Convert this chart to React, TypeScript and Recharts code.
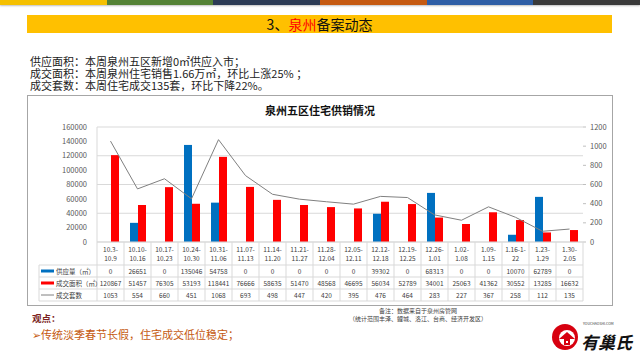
import React from "react";
import { ComposedChart, Bar, Line, XAxis, YAxis, CartesianGrid } from "recharts";

const catTop = ["10.3-", "10.10-", "10.17-", "10.24-", "10.31-", "11.07-", "11.14-", "11.21-", "11.28-", "12.05-", "12.12-", "12.19-", "12.26-", "1.02-", "1.09-", "1.16-1-", "1.23-", "1.30-"];
const catBottom = ["10.9", "10.16", "10.23", "10.30", "11.06", "11.13", "11.20", "11.27", "12.04", "12.11", "12.18", "12.25", "1.01", "1.08", "1.15", "22", "1.29", "2.05"];
const supplyArea = [0, 26651, 0, 135046, 54758, 0, 0, 0, 0, 0, 39302, 0, 68313, 0, 0, 10070, 62789, 0];
const dealArea = [120867, 51457, 76305, 53193, 118441, 76666, 58635, 51470, 48568, 46695, 56034, 52789, 34001, 25063, 41362, 30552, 13285, 16632];
const dealCount = [1053, 554, 660, 451, 1068, 693, 498, 447, 420, 395, 476, 464, 283, 227, 367, 258, 112, 135];
const leftTicks = [0, 20000, 40000, 60000, 80000, 100000, 120000, 140000, 160000];
const rightTicks = [0, 200, 400, 600, 800, 1000, 1200];
const stripeColors = ["#f5c000", "#548235", "#2c3b55", "#c55a11", "#2e5ea6", "#3a3a3a"];

const data = catTop.map((c, i) => ({
  name: c + catBottom[i],
  supply: supplyArea[i],
  deal: dealArea[i],
  count: dealCount[i],
}));

const FONT = "'Noto Sans CJK SC', 'Noto Sans', sans-serif";
const GRID = "#d9d9d9";
const TXT = "#404040";

const TableTick = (props: any) => {
  const { x, y, index } = props;
  const bw = (props.width || 486) / catTop.length;
  const l = x - bw / 2;
  const r = x + bw / 2;
  const rows = [y + 23, y + 35, y + 47, y + 59];
  const vals = [supplyArea[index], dealArea[index], dealCount[index]];
  return (
    <g fontFamily={FONT} fontSize={6.5} fill={TXT}>
      <line x1={l} y1={y} x2={l} y2={rows[3]} stroke={GRID} />
      {index === catTop.length - 1 && <line x1={r} y1={y} x2={r} y2={rows[3]} stroke={GRID} />}
      {rows.map((ry, k) => (
        <line key={k} x1={l} y1={ry} x2={r} y2={ry} stroke={GRID} />
      ))}
      <text x={x} y={y + 9.5} textAnchor="middle">{catTop[index]}</text>
      <text x={x} y={y + 18.5} textAnchor="middle">{catBottom[index]}</text>
      {vals.map((v, k) => (
        <text key={k} x={x} y={rows[k] + 8.5} textAnchor="middle">{v}</text>
      ))}
    </g>
  );
};

export default function App() {
  return (
    <div style={{ position: "absolute", left: 0, top: 0, width: 640, height: 355, background: "#fff", fontFamily: FONT, overflow: "hidden" }}>
      <div style={{ position: "absolute", left: 0, top: 0, width: 640, height: 5, display: "flex", boxShadow: "0 1px 2px rgba(0,0,0,0.25)" }}>
        {stripeColors.map((c) => (
          <div key={c} style={{ flex: 1, background: c }} />
        ))}
      </div>
      <div style={{ position: "absolute", left: 27, top: 15, width: 585, height: 18, background: "#ffc000", textAlign: "center", fontSize: 14, lineHeight: "18px", color: "#111" }}>
        3、<span style={{ color: "#ff0000" }}>泉州</span>备案动态
      </div>
      <div style={{ position: "absolute", left: 30, top: 55, fontSize: 11, lineHeight: "12px", color: "#222" }}>
        <div>供应面积：本周泉州五区新增0㎡供应入市；</div>
        <div>成交面积：本周泉州住宅销售1.66万㎡，环比上涨25%  ；</div>
        <div>成交套数：本周住宅成交135套，环比下降22%。</div>
      </div>
      <div style={{ position: "absolute", left: 27, top: 95, width: 584, height: 209, border: "1px solid #a6a6a6" }} />
      <div style={{ position: "absolute", left: 0, top: 102, width: 640, textAlign: "center", fontSize: 11, fontWeight: 700, color: "#111" }}>
        泉州五区住宅供销情况
      </div>
      <div style={{ position: "absolute", left: 0, top: 0 }}>
        <ComposedChart width={640} height={310} data={data} margin={{ top: 127, right: 27, left: 37, bottom: 8 }} barGap={0}>
          <CartesianGrid yAxisId="left" vertical={false} stroke={GRID} />
          <XAxis dataKey="name" height={60} interval={0} tickLine={false} tickSize={0} tickMargin={0} axisLine={{ stroke: GRID }} tick={<TableTick />} />
          <YAxis yAxisId="left" width={60} domain={[0, 160000]} ticks={leftTicks} tickLine={false} tickSize={0} tickMargin={10} axisLine={{ stroke: GRID }} tick={{ fontSize: 7.5, fill: "#595959", fontFamily: FONT }} />
          <YAxis yAxisId="right" orientation="right" width={30} domain={[0, 1200]} ticks={rightTicks} axisLine={false} tickLine={{ stroke: "#bfbfbf" }} tickSize={3} tickMargin={4} tick={{ fontSize: 7.5, fill: "#595959", fontFamily: FONT }} />
          <Bar yAxisId="left" dataKey="supply" fill="#0070c0" barSize={8} isAnimationActive={false} />
          <Bar yAxisId="left" dataKey="deal" fill="#ff0000" barSize={8} isAnimationActive={false} />
          <Line yAxisId="right" dataKey="count" type="linear" stroke="#808080" strokeWidth={1} dot={false} isAnimationActive={false} />
        </ComposedChart>
      </div>
      <svg style={{ position: "absolute", left: 0, top: 0 }} width={100} height={310}>
        <g fontFamily={FONT} fontSize={6.5} fill={TXT}>
          <line x1={39} y1={265} x2={97} y2={265} stroke={GRID} />
          <line x1={39} y1={277} x2={97} y2={277} stroke={GRID} />
          <line x1={39} y1={289} x2={97} y2={289} stroke={GRID} />
          <line x1={39} y1={301} x2={97} y2={301} stroke={GRID} />
          <line x1={39} y1={265} x2={39} y2={301} stroke={GRID} />
          <rect x={41} y={269.5} width={13} height={3} fill="#0070c0" />
          <text x={56} y={273.5}>供应量（㎡）</text>
          <rect x={41} y={281.5} width={13} height={3} fill="#ff0000" />
          <text x={56} y={285.5}>成交面积（㎡）</text>
          <line x1={41} y1={295} x2={54} y2={295} stroke="#808080" />
          <text x={56} y={297.5}>成交套数</text>
        </g>
      </svg>
      <svg style={{ position: "absolute", left: 318, top: 306 }} width={200} height={18}>
        <g fontFamily={FONT} fontSize={6} fill={TXT} textAnchor="middle">
          <text x={100} y={7}>备注：数据来自于泉州房管网</text>
          <text x={100} y={15}>（统计范围丰泽、鲤城、洛江、台商、经济开发区）</text>
        </g>
      </svg>
      <div style={{ position: "absolute", left: 32, top: 312, fontSize: 9.5, fontWeight: 700, color: "#7b1f1f", lineHeight: "12px" }}>观点：</div>
      <div style={{ position: "absolute", left: 32, top: 327, fontSize: 11, color: "#c55a11", lineHeight: "14px" }}>➢传统淡季春节长假，住宅成交低位稳定；</div>
      <svg style={{ position: "absolute", left: 545, top: 320 }} width={95} height={35}>
        <circle cx={20} cy={17} r={13} fill="#d7000f" />
        <circle cx={22} cy={18} r={8} fill="#fff" />
        <path d="M14 19 L22 12 L30 19 Z" fill="#d7000f" />
        <rect x={19} y={19} width={6} height={6} fill="#d7000f" />
        <rect x={21} y={21} width={2} height={2} fill="#fff" />
        <text x={38} y={5} fontSize={3.5} fill="#333" fontFamily={FONT}>YOUCHAOSHI.COM</text>
        <text x={36} y={29} fontSize={17} fontWeight={700} fontStyle="italic" fill="#111" fontFamily={FONT}>有巢氏</text>
      </svg>
    </div>
  );
}
